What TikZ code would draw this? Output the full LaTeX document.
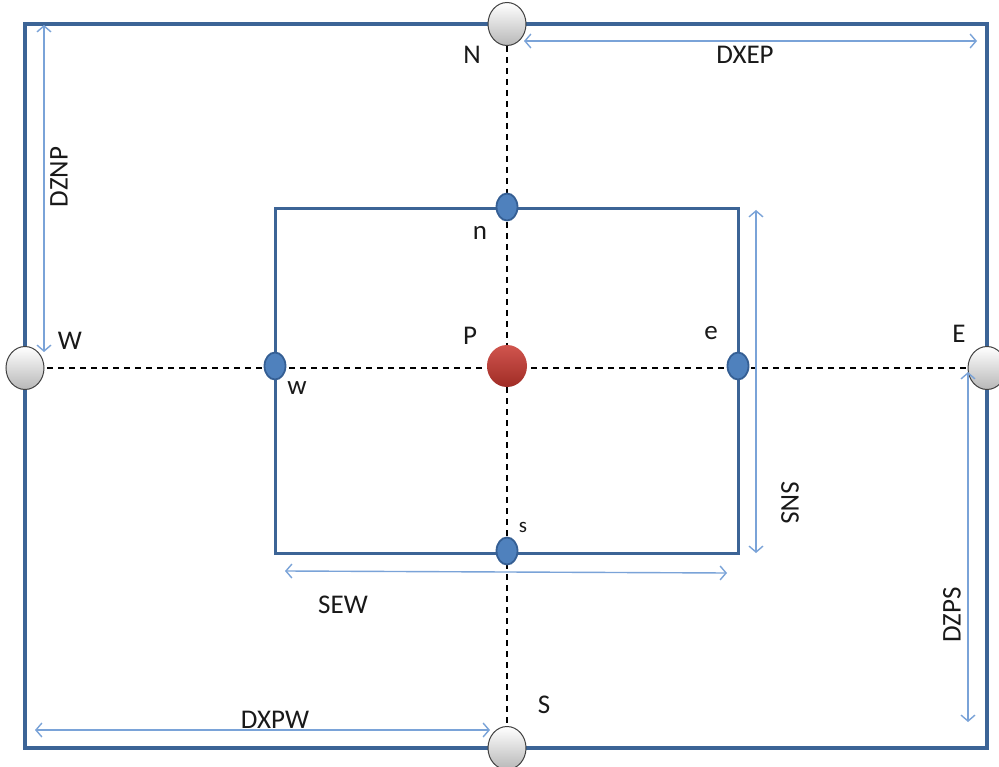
\documentclass[tikz,border=0pt]{standalone}
\usepackage{fontspec}
\setmainfont{Carlito}
\usetikzlibrary{arrows.meta,shapes.geometric}
\definecolor{frameblue}{HTML}{3C6496}
\definecolor{dimblue}{HTML}{7AA3D8}
\definecolor{facefill}{HTML}{4F81BD}
\definecolor{facedraw}{HTML}{355F94}
\definecolor{pred}{HTML}{C8372F}
\tikzset{
  framebox/.style={draw=frameblue, line width=3.5pt},
  cellbox/.style={draw=frameblue, line width=3pt},
  dashline/.style={draw=black, line width=1.6pt, dash pattern=on 6pt off 5pt},
  dimline/.style={draw=dimblue, line width=1.4pt, {Straight Barb[length=6pt,width=14pt]}-{Straight Barb[length=6pt,width=14pt]}},
  nbnode/.style={ellipse, minimum width=38pt, minimum height=43pt, inner sep=0pt, draw=black!75, line width=1pt, top color=white, bottom color=black!28},
  facenode/.style={ellipse, minimum width=21pt, minimum height=27pt, inner sep=0pt, draw=facedraw, line width=1.8pt, fill=facefill},
  pnode/.style={ellipse, minimum width=40pt, minimum height=42pt, inner sep=0pt, top color=pred!85!white, bottom color=pred!80!black},
  lab/.style={font=\fontsize{27}{30}\selectfont, inner sep=0pt, text=black!90},
  smalllab/.style={font=\fontsize{21}{24}\selectfont, inner sep=0pt, text=black!90}
}
\begin{document}
\begin{tikzpicture}[x=1pt,y=-1pt]
\fill[white] (0,0) rectangle (999,767);
\useasboundingbox (0,0) rectangle (999,767);
\coordinate (o1) at (25,24);
\coordinate (o2) at (987,748);
\coordinate (i1) at (275,209);
\coordinate (i2) at (738,553);
\draw[framebox] (o1) rectangle (o2);
\draw[cellbox] (i1) rectangle (i2);
\coordinate (cN) at (507,24);
\coordinate (cS) at (507,748);
\coordinate (cW) at (25,368);
\coordinate (cE) at (987,368);
\draw[dashline] (cW) -- (cE);
\draw[dashline] (cN) -- (cS);
\node[nbnode] (N) at (cN) {};
\node[nbnode] (S) at (cS) {};
\node[nbnode] (W) at (cW) {};
\node[nbnode] (E) at (cE) {};
\node[facenode] (n) at (507,207) {};
\node[facenode] (s) at (507,551) {};
\node[facenode] (w) at (275,366) {};
\node[facenode] (e) at (738,366) {};
\node[pnode] (P) at (507,366) {};
\node[lab] (lN) at (472,55) {N};
\node[lab] (ln) at (480,233) {n};
\node[lab] (lW) at (70,341) {W};
\node[lab] (lw) at (297,388) {w};
\node[lab] (lP) at (470,336) {P};
\node[lab] (le) at (711,333) {e};
\node[lab] (lE) at (959,334) {E};
\node[smalllab] (ls) at (523,527) {s};
\node[lab] (lS) at (544,705) {S};
\coordinate (a1) at (524,41);  \coordinate (a2) at (977,41);
\coordinate (b1) at (44,25);   \coordinate (b2) at (44,352);
\coordinate (c1) at (756,210); \coordinate (c2) at (756,553);
\coordinate (d1) at (968,372); \coordinate (d2) at (968,722);
\coordinate (f1) at (285,571); \coordinate (f2) at (727,573);
\coordinate (g1) at (35,730);  \coordinate (g2) at (490,730);
\draw[dimline] (a1) -- (a2);
\draw[dimline] (b1) -- (b2);
\draw[dimline] (c1) -- (c2);
\draw[dimline] (d1) -- (d2);
\draw[dimline] (f1) -- (f2);
\draw[dimline] (g1) -- (g2);
\node[lab] (tDXEP) at (745,55) {DXEP};
\node[lab, rotate=90] (tDZNP) at (59,177) {DZNP};
\node[lab, rotate=-90] (tSNS) at (790,503) {SNS};
\node[lab, rotate=90] (tDZPS) at (952,615) {DZPS};
\node[lab] (tSEW) at (343,605) {SEW};
\node[lab] (tDXPW) at (275,720) {DXPW};
\end{tikzpicture}
\end{document}
